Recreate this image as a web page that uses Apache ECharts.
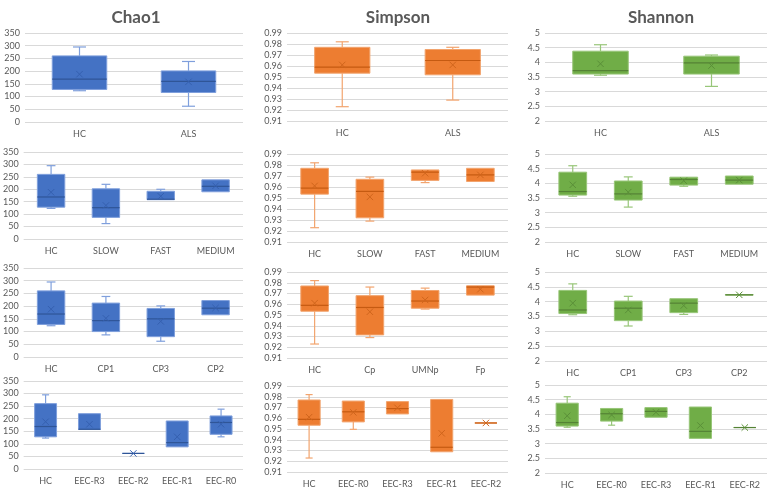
<!DOCTYPE html>
<html><head><meta charset="utf-8">
<script src="https://cdn.jsdelivr.net/npm/echarts@6/dist/echarts.min.js"></script>
<style>html,body{margin:0;padding:0;background:#fff}#c{width:782px;height:495px}</style>
</head><body><div id="c"></div>
<script>
// ---- titles ----
const panelTitles = ['Chao1', 'Simpson', 'Shannon'];

// ---- categories (rows 1..4) ----
const chao1Cats = [['HC','ALS'], ['HC','SLOW','FAST','MEDIUM'], ['HC','CP1','CP3','CP2'], ['HC','EEC-R3','EEC-R2','EEC-R1','EEC-R0']];
const simpsonCats = [['HC','ALS'], ['HC','SLOW','FAST','MEDIUM'], ['HC','Cp','UMNp','Fp'], ['HC','EEC-R0','EEC-R3','EEC-R1','EEC-R2']];
const shannonCats = [['HC','ALS'], ['HC','SLOW','FAST','MEDIUM'], ['HC','CP1','CP3','CP2'], ['HC','EEC-R0','EEC-R3','EEC-R1','EEC-R2']];

// ---- values: [min, Q1, median, Q3, max, mean] ----
const chao1HC = [123, 128, 169, 260, 295, 188];
const chao1Row1 = [chao1HC, [62, 116, 160, 201, 238, 158]];
const chao1Row2 = [chao1HC, [62, 87, 126, 202, 220, 135], [157, 158, 160, 192, 200, 172], [190, 190, 212, 238, 238, 214]];
const chao1Row3 = [chao1HC, [87, 100, 143, 212, 238, 152], [62, 80, 150, 191, 201, 140], [166, 166, 192, 222, 222, 193]];
const chao1Row4 = [chao1HC, [157, 157, 158, 220, 220, 178], [62, 62, 62, 62, 62, 62], [88, 88, 105, 191, 191, 128], [128, 138, 185, 211, 238, 178]];

const simpsonHC = [0.923, 0.9535, 0.959, 0.977, 0.982, 0.961];
const simpsonRow1 = [simpsonHC, [0.929, 0.952, 0.965, 0.975, 0.977, 0.961]];
const simpsonRow2 = [simpsonHC, [0.929, 0.932, 0.956, 0.967, 0.969, 0.951], [0.964, 0.966, 0.9735, 0.9755, 0.9755, 0.9725], [0.965, 0.965, 0.971, 0.977, 0.977, 0.971]];
const simpsonRow3 = [simpsonHC, [0.929, 0.9315, 0.957, 0.968, 0.976, 0.953], [0.9555, 0.9563, 0.963, 0.9728, 0.975, 0.964], [0.9685, 0.9685, 0.976, 0.9772, 0.9772, 0.974]];
const simpsonRow4 = [simpsonHC, [0.9497, 0.9566, 0.966, 0.976, 0.976, 0.9655], [0.964, 0.964, 0.969, 0.9755, 0.9755, 0.9697], [0.9288, 0.9288, 0.933, 0.9775, 0.9775, 0.946], [0.9556, 0.9556, 0.9556, 0.9556, 0.9556, 0.9556]];

const shannonHC = [3.56, 3.6, 3.72, 4.38, 4.6, 3.95];
const shannonRow1 = [shannonHC, [3.18, 3.6, 3.98, 4.21, 4.25, 3.89]];
const shannonRow2 = [shannonHC, [3.19, 3.43, 3.64, 4.08, 4.22, 3.7], [3.9, 3.94, 4.13, 4.21, 4.21, 4.09], [3.97, 3.97, 4.11, 4.25, 4.25, 4.11]];
const shannonRow3 = [shannonHC, [3.18, 3.36, 3.78, 4.02, 4.18, 3.72], [3.57, 3.63, 3.95, 4.1, 4.1, 3.87], [4.22, 4.22, 4.23, 4.24, 4.24, 4.23]];
const shannonRow4 = [shannonHC, [3.63, 3.77, 4.02, 4.2, 4.2, 3.98], [3.9, 3.9, 4.1, 4.23, 4.23, 4.07], [3.18, 3.18, 3.42, 4.25, 4.25, 3.62], [3.55, 3.55, 3.55, 3.55, 3.55, 3.55]];

// ---- axis ticks ----
const chao1Axis = {min: 0, max: 350, interval: 50};
const simpsonAxis = {min: 0.91, max: 0.99, interval: 0.01};
const shannonAxis = {min: 2, max: 5, interval: 0.5};

// ---- layout (styles) ----
const colLeft = [[25, 22, 21, 21], [287, 287, 287, 287], [545, 545, 545, 545]];
const colRight = [243, 508, 767];
const rowTB = [
  [[33,122],[152,239],[268,357],[381,469]],
  [[33,121],[154,242],[272,358],[386,472]],
  [[33,121],[154,242],[272,361],[385,473]]
];
const titleX = [131, 393, 656];
const palette = [
  {fill:'#4472c4', edge:'#7f9fdc', med:'#2f5597', mean:'#3560b0'},
  {fill:'#ed7d31', edge:'#f2a46e', med:'#c55a11', mean:'#d0651c'},
  {fill:'#70ad47', edge:'#98c679', med:'#548235', mean:'#5a8f38'}
];

const columns = [
  {cats: chao1Cats, rows: [chao1Row1, chao1Row2, chao1Row3, chao1Row4], axis: chao1Axis, fmt: v => String(v)},
  {cats: simpsonCats, rows: [simpsonRow1, simpsonRow2, simpsonRow3, simpsonRow4], axis: simpsonAxis, fmt: v => Number(v).toFixed(2)},
  {cats: shannonCats, rows: [shannonRow1, shannonRow2, shannonRow3, shannonRow4], axis: shannonAxis, fmt: v => String(Math.round(v*10)/10)}
];

function makeRender(col) {
  return function (params, api) {
    const idx = api.value(0);
    const v = [1,2,3,4,5,6].map(i => api.value(i));
    const band = api.size([1, 0])[0];
    const bw = band * 0.5;
    const cw = Math.min(bw * 0.32, 13);
    const cx = api.coord([idx, v[2]])[0];
    const y = val => api.coord([idx, val])[1];
    const yMin = y(v[0]), yQ1 = y(v[1]), yMed = y(v[2]), yQ3 = y(v[3]), yMax = y(v[4]), yMean = y(v[5]);
    const c = palette[col];
    const ls = {stroke: c.edge, lineWidth: 1.2};
    const ch = [];
    if (yMax < yQ3 - 0.5) {
      ch.push({type:'line', shape:{x1:cx, y1:yQ3, x2:cx, y2:yMax}, style: ls});
      ch.push({type:'line', shape:{x1:cx-cw/2, y1:yMax, x2:cx+cw/2, y2:yMax}, style: ls});
    }
    if (yMin > yQ1 + 0.5) {
      ch.push({type:'line', shape:{x1:cx, y1:yQ1, x2:cx, y2:yMin}, style: ls});
      ch.push({type:'line', shape:{x1:cx-cw/2, y1:yMin, x2:cx+cw/2, y2:yMin}, style: ls});
    }
    ch.push({type:'rect', shape:{x:cx-bw/2, y:yQ3, width:bw, height:Math.max(yQ1-yQ3, 0)}, style:{fill:c.fill, stroke:c.edge, lineWidth:1}});
    ch.push({type:'line', shape:{x1:cx-bw/2, y1:yMed, x2:cx+bw/2, y2:yMed}, style:{stroke:c.med, lineWidth:1.2}});
    const s = 3.2;
    ch.push({type:'line', shape:{x1:cx-s, y1:yMean-s, x2:cx+s, y2:yMean+s}, style:{stroke:c.mean, lineWidth:1}});
    ch.push({type:'line', shape:{x1:cx-s, y1:yMean+s, x2:cx+s, y2:yMean-s}, style:{stroke:c.mean, lineWidth:1}});
    return {type:'group', children: ch};
  };
}

const grids = [], xAxes = [], yAxes = [], series = [];
columns.forEach((col, ci) => {
  col.rows.forEach((rowData, ri) => {
    const gi = grids.length;
    const left = colLeft[ci][ri];
    const [top, bottom] = rowTB[ci][ri];
    grids.push({left: left, top: top, width: colRight[ci] - left, height: bottom - top});
    xAxes.push({type:'category', gridIndex: gi, data: col.cats[ri],
      axisLine:{show:false}, axisTick:{show:false},
      axisLabel:{color:'#595959', fontSize:9, fontFamily:'Lato', margin:8, interval:0}});
    yAxes.push({type:'value', gridIndex: gi, min: col.axis.min, max: col.axis.max, interval: col.axis.interval,
      axisLine:{show:false}, axisTick:{show:false},
      axisLabel:{color:'#595959', fontSize:9, fontFamily:'Lato', margin:5, formatter: col.fmt},
      splitLine:{lineStyle:{color:'#d9d9d9', width:1}}});
    series.push({type:'custom', xAxisIndex: gi, yAxisIndex: gi,
      renderItem: makeRender(ci),
      encode: {x: 0, y: [1,2,3,4,5,6]},
      data: rowData.map((d, k) => [k].concat(d))});
  });
});

const chart = echarts.init(document.getElementById('c'), null, {renderer:'canvas'});
chart.setOption({
  animation: false,
  title: panelTitles.map((t, i) => ({text: t, left: titleX[i], top: 4, textAlign: 'center',
    textStyle:{color:'#595959', fontSize:17, fontWeight:'bold', fontFamily:'Lato'}})),
  grid: grids, xAxis: xAxes, yAxis: yAxes, series: series
});
</script></body></html>
